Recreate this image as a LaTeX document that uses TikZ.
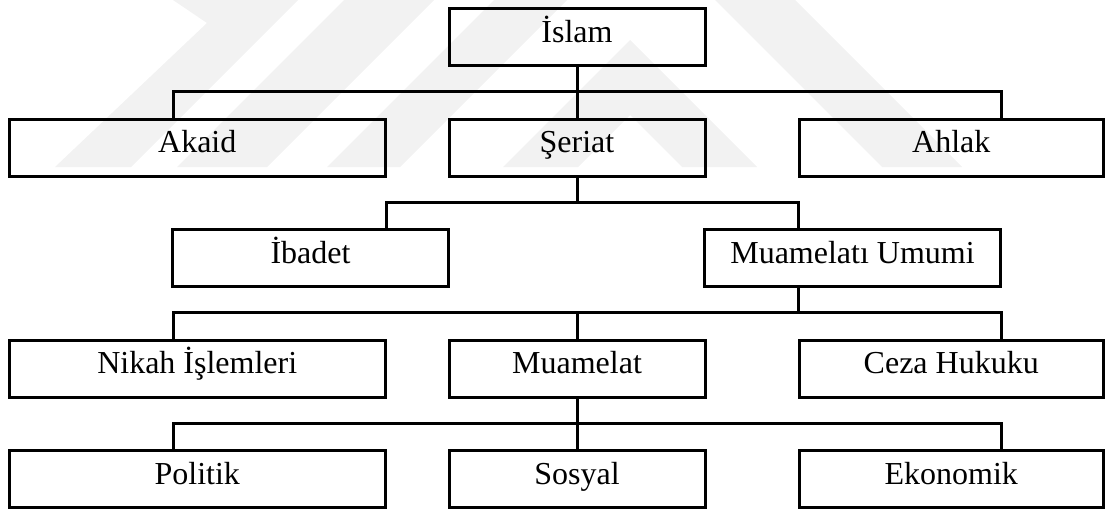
\documentclass[tikz,border=0pt]{standalone}
\usepackage{fontspec}
\setmainfont{Liberation Serif}
\tikzset{
  box/.style={draw, line width=3pt, rectangle, inner sep=0pt, outer sep=0pt,
              minimum height=57pt, text height=23pt, text depth=12.5pt,
              font=\fontsize{32}{36}\selectfont},
  widebox/.style={box, minimum width=376.5pt},
  midbox/.style={box, minimum width=256pt},
  sidebox/.style={box, minimum width=304.5pt},
  link/.style={line width=3pt, line join=miter},
  wmark/.style={fill=black!5, draw=none}
}
\begin{document}
\begin{tikzpicture}[x=1pt, y=-1pt]
\useasboundingbox (0,0) rectangle (1105,509);

% faint background stripes
\fill[wmark] (173,0) -- (207,23) -- (55,167) -- (131,167) -- (298,0) -- cycle;
\fill[wmark] (177,167) -- (267,167) -- (434,0) -- (344,0) -- cycle;
\fill[wmark] (327,167) -- (400,167) -- (567,0) -- (494,0) -- cycle;
\fill[wmark] (503,167) -- (630,40) -- (757,167) -- (682,167) -- (630,115) -- (578,167) -- cycle;
\fill[wmark] (715,0) -- (795,0) -- (962,167) -- (882,167) -- cycle;

% boxes
\node[midbox]  (islam)    at (577,37)      {İslam};
\node[widebox] (akaid)    at (197.25,147.5) {Akaid};
\node[midbox]  (seriat)   at (577,147.5)   {Şeriat};
\node[sidebox] (ahlak)    at (951.25,147.5) {Ahlak};
\node[box, minimum width=276pt] (ibadet) at (310.5,258) {İbadet};
\node[box, minimum width=296pt] (mu)     at (852.5,258) {Muamelatı Umumi};
\node[widebox] (nikah)    at (197.25,368.5) {Nikah İşlemleri};
\node[midbox]  (muamelat) at (577,368.5)   {Muamelat};
\node[sidebox] (ceza)     at (951.25,368.5) {Ceza Hukuku};
\node[widebox] (politik)  at (197.25,479)  {Politik};
\node[midbox]  (sosyal)   at (577,479)     {Sosyal};
\node[sidebox] (ekonomik) at (951.25,479)  {Ekonomik};

% bus points
\coordinate (b1l) at (173,91.5);  \coordinate (b1r) at (1001,91.5);
\coordinate (b2l) at (386.5,202); \coordinate (b2r) at (798,202);
\coordinate (b3l) at (173,312.5); \coordinate (b3r) at (1001,312.5);
\coordinate (b3m) at (798,312.5);
\coordinate (b4l) at (173,423);   \coordinate (b4r) at (1001,423);

% level 1
\draw[link] (islam.south) -- (seriat.north);
\draw[link] (b1l |- akaid.north) -- (b1l) -- (b1r) -- (b1r |- ahlak.north);
% level 2
\draw[link] (seriat.south) -- (seriat.south |- b2l);
\draw[link] (b2l |- ibadet.north) -- (b2l) -- (b2r) -- (b2r |- mu.north);
% level 3
\draw[link] (b3m |- mu.south) -- (b3m);
\draw[link] (b3l |- nikah.north) -- (b3l) -- (b3r) -- (b3r |- ceza.north);
\draw[link] (muamelat.north) -- (muamelat.north |- b3l);
% level 4
\draw[link] (muamelat.south) -- (sosyal.north);
\draw[link] (b4l |- politik.north) -- (b4l) -- (b4r) -- (b4r |- ekonomik.north);
\end{tikzpicture}
\end{document}
